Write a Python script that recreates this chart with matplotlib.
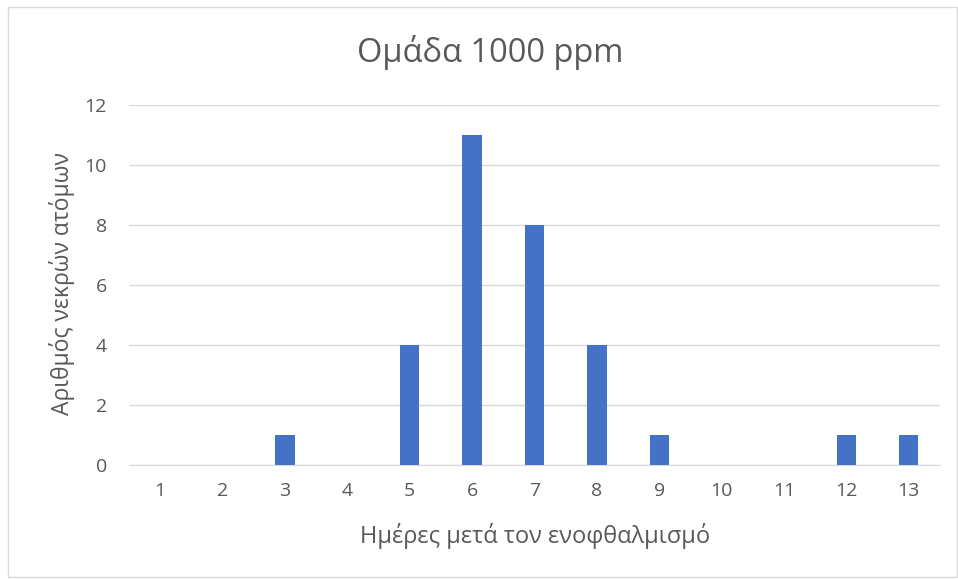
import matplotlib.pyplot as plt
from matplotlib.patches import Rectangle

days = [1, 2, 3, 4, 5, 6, 7, 8, 9, 10, 11, 12, 13]
dead = [0, 0, 1, 0, 4, 11, 8, 4, 1, 0, 0, 1, 1]
day_labels = [str(d) for d in days]

title = "Ομάδα 1000 ppm"
xlabel = "Ημέρες μετά τον ενοφθαλμισμό"
ylabel = "Αριθμός νεκρών ατόμων"

plt.rcParams['font.family'] = ['Open Sans', 'DejaVu Sans']
txt = '#595959'

fig = plt.figure(figsize=(9.58, 5.79), dpi=100)
ax = fig.add_axes([129/958, 1 - 465/579, 811/958, 360/579])

ax.bar(days, dead, width=0.31, color='#4472c4', zorder=3)

ax.set_xlim(0.5, 13.5)
ax.set_ylim(0, 12)
ax.set_yticks(range(0, 13, 2))
ax.set_xticks(days)
ax.set_xticklabels(day_labels)
ax.yaxis.grid(True, color='#d9d9d9', linewidth=1, zorder=0)
for s in ax.spines.values():
    s.set_visible(False)
ax.spines['bottom'].set_visible(True)
ax.spines['bottom'].set_color('#d9d9d9')
ax.tick_params(length=0, labelsize=14, colors=txt)
ax.tick_params(axis='x', pad=12)
ax.tick_params(axis='y', pad=16)

fig.text(490/958, 1 - 52/579, title, ha='center', va='center', fontsize=23.5, color=txt)
fig.text(535/958, 1 - 536/579, xlabel, ha='center', va='center', fontsize=17, color=txt)
fig.text(62/958, 1 - 284/579, ylabel, ha='center', va='center', rotation=90, fontsize=16.5, color=txt)

fig.patches.append(Rectangle((8/958, 2/579), 949/958, 570/579, transform=fig.transFigure,
                             fill=False, edgecolor='#d9d9d9', linewidth=1))

fig.savefig('out.png', dpi=100)
